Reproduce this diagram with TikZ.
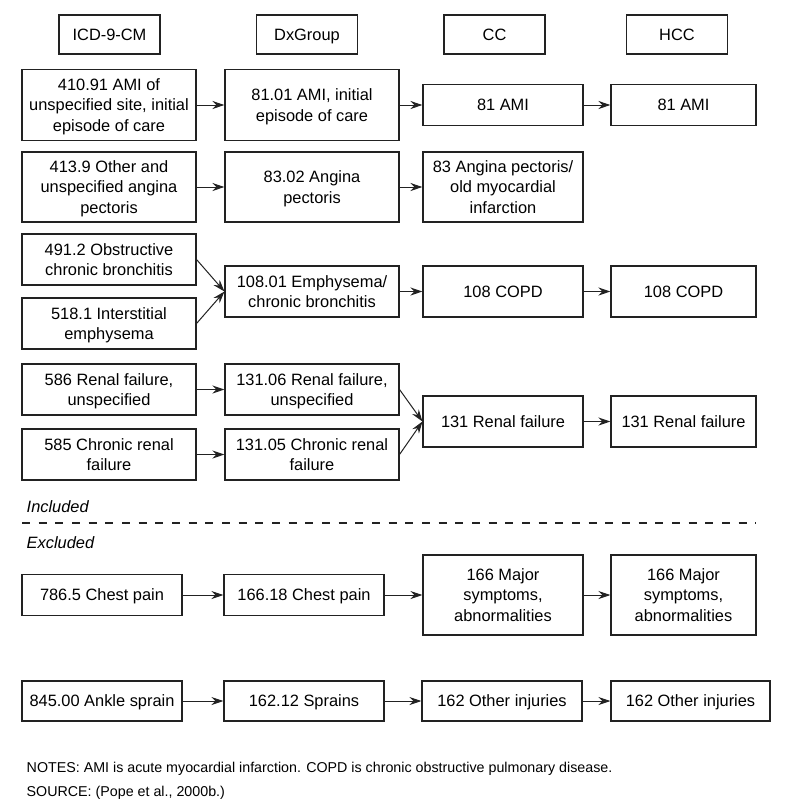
\documentclass[tikz,border=0pt]{standalone}
\usepackage{fontspec}
\setmainfont{Liberation Sans}
\usepackage{xcolor}
\usetikzlibrary{arrows.meta, positioning}
\definecolor{boxline}{HTML}{222222}

\begin{document}
\begin{tikzpicture}[
    x=0.75pt, y=-0.75pt,
    codebox/.style={rectangle, draw=boxline, line width=0.8pt, minimum width=#1, inner sep=1pt, text depth=0pt, font=\fontsize{12.3}{15.6}\selectfont, align=center},
    oneline/.style={text height=8.9pt, text depth=0pt},
    headbox/.style={codebox=75.75pt, oneline, minimum height=29.25pt},
    tag/.style={font=\fontsize{12.3}{15.6}\selectfont\itshape, anchor=west},
    note/.style={font=\fontsize{10.7}{12}\selectfont, anchor=west},
    maps/.style={-{Stealth[length=9pt, width=6pt, inset=3pt]}, line width=0.75pt, draw=boxline}
]
\useasboundingbox (0,0) rectangle (785,807);

% Column headers
\node[headbox] (hicd) at (109.5,34.5) {ICD-9-CM};
\node[headbox] (hdx)  at (307,34.5)   {DxGroup};
\node[headbox] (hcc)  at (494.5,34.5) {CC};
\node[headbox] (hhcc) at (677,34.5)   {HCC};

% AMI
\node[codebox=130.5pt, minimum height=53.25pt] (icdami) at (109,105) {410.91 AMI of\\unspecified site, initial\\episode of care};
\node[codebox=130.5pt, minimum height=53.25pt] (dxami) at (312,105) {81.01 AMI, initial\\episode of care};
\node[codebox=120pt, oneline, minimum height=30.75pt] (ccami) at (503,105) {81 AMI};
\node[codebox=108.75pt, oneline, minimum height=30.75pt] (hccami) at (683.5,105) {81 AMI};

% Angina
\node[codebox=130.5pt, minimum height=52.5pt] (icdang) at (109,187) {413.9 Other and\\unspecified angina\\pectoris};
\node[codebox=130.5pt, minimum height=52.5pt] (dxang) at (312,187) {83.02 Angina\\pectoris};
\node[codebox=120pt, minimum height=52.5pt] (ccang) at (503,187) {83 Angina pectoris/\\old myocardial\\infarction};

% COPD
\node[codebox=130.5pt, minimum height=38.25pt] (icdbron) at (109,259.5) {491.2 Obstructive\\chronic bronchitis};
\node[codebox=130.5pt, minimum height=38.25pt] (icdemph) at (109,323.5) {518.1 Interstitial\\emphysema};
\node[codebox=130.5pt, minimum height=38.25pt] (dxcopd) at (312,291.5) {108.01 Emphysema/\\chronic bronchitis};
\node[codebox=120pt, oneline, minimum height=38.25pt] (cccopd) at (503,291.5) {108 COPD};
\node[codebox=108.75pt, oneline, minimum height=38.25pt] (hcccopd) at (683.5,291.5) {108 COPD};

% Renal failure
\node[codebox=130.5pt, minimum height=38.25pt] (icdrf) at (109,389.5) {586 Renal failure,\\unspecified};
\node[codebox=130.5pt, minimum height=38.25pt] (icdcrf) at (109,454.5) {585 Chronic renal\\failure};
\node[codebox=130.5pt, minimum height=38.25pt] (dxrf) at (312,389.5) {131.06 Renal failure,\\unspecified};
\node[codebox=130.5pt, minimum height=38.25pt] (dxcrf) at (312,454.5) {131.05 Chronic renal\\failure};
\node[codebox=120pt, oneline, minimum height=38.25pt] (ccrf) at (503,421.5) {131 Renal failure};
\node[codebox=108.75pt, oneline, minimum height=38.25pt] (hccrf) at (683.5,421.5) {131 Renal failure};

% Included / excluded
\node[tag] (incl) at (22,507) {Included};
\coordinate (cutL) at (22,523);
\coordinate (cutR) at (756,523);
\draw[boxline, line width=0.8pt, dash pattern=on 6pt off 6.5pt] (cutL) -- (cutR);
\node[tag] (excl) at (22,543) {Excluded};

% Chest pain
\node[codebox=120pt, oneline, minimum height=30.75pt] (icdcp) at (102,595) {786.5 Chest pain};
\node[codebox=120pt, oneline, minimum height=30.75pt] (dxcp) at (304,595) {166.18 Chest pain};
\node[codebox=120pt, minimum height=60pt] (cccp) at (503,595) {166 Major\\symptoms,\\abnormalities};
\node[codebox=108.75pt, minimum height=60pt] (hcccp) at (683.5,595) {166 Major\\symptoms,\\abnormalities};

% Sprain
\node[codebox=120pt, oneline, minimum height=30pt] (icdspr) at (102,701) {845.00 Ankle sprain};
\node[codebox=120pt, oneline, minimum height=30pt] (dxspr) at (304,701) {162.12 Sprains};
\node[codebox=120pt, oneline, minimum height=30pt] (ccspr) at (502,701) {162 Other injuries};
\node[codebox=119.25pt, oneline, minimum height=30pt] (hccspr) at (690.5,701) {162 Other injuries};

% Mappings
\foreach \a/\b in {icdami/dxami, dxami/ccami, ccami/hccami,
                   icdang/dxang, dxang/ccang,
                   icdbron/dxcopd, icdemph/dxcopd, dxcopd/cccopd, cccopd/hcccopd,
                   icdrf/dxrf, icdcrf/dxcrf, dxrf/ccrf, dxcrf/ccrf, ccrf/hccrf,
                   icdcp/dxcp, dxcp/cccp, cccp/hcccp,
                   icdspr/dxspr, dxspr/ccspr, ccspr/hccspr}
  \draw[maps] (\a.east) -- (\b.west);

% Notes
\node[note] (notes) at (22,769) {NOTES: AMI is acute myocardial infarction. COPD is chronic obstructive pulmonary disease.};
\node[note] (source) at (22,793) {SOURCE: (Pope et al., 2000b.)};

\end{tikzpicture}
\end{document}
